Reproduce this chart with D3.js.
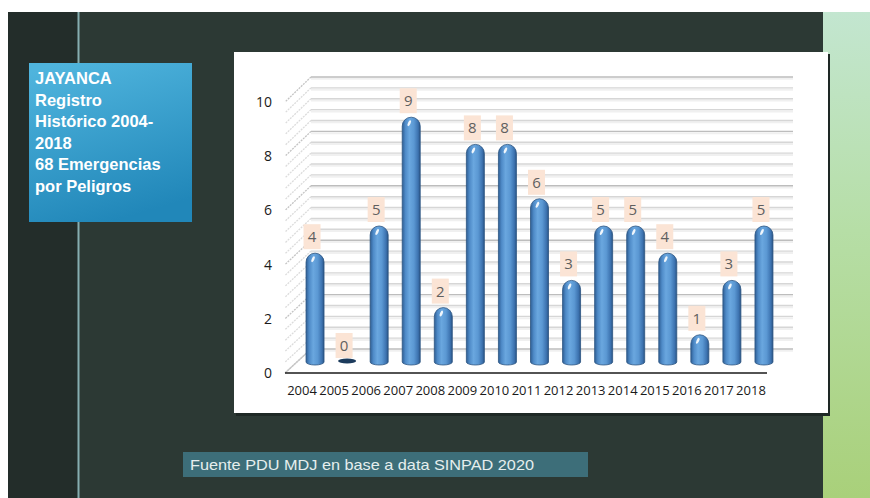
<!DOCTYPE html>
<html><head><meta charset="utf-8">
<script src="https://cdn.jsdelivr.net/npm/d3@7"></script>
<style>html,body{margin:0;padding:0;background:#fff;}svg{display:block;}</style>
</head><body>
<script>
const years = ["2004","2005","2006","2007","2008","2009","2010","2011","2012","2013","2014","2015","2016","2017","2018"];
const values = [4,0,5,9,2,8,8,6,3,5,5,4,1,3,5];
const yTicks = [0,2,4,6,8,10];
const titleLines = ["JAYANCA","Registro","Histórico 2004-","2018","68 Emergencias","por Peligros"];
const sourceText = "Fuente PDU MDJ en base a data SINPAD 2020";

const W = 870, H = 498;
const svg = d3.select("body").append("svg").attr("width", W).attr("height", H);
const defs = svg.append("defs");

const gGreen = defs.append("linearGradient").attr("id","green").attr("x1",0).attr("y1",0).attr("x2",0).attr("y2",1);
[["0%","#c3e6d0"],["45%","#b6dea6"],["100%","#a9d07a"]].forEach(s=>gGreen.append("stop").attr("offset",s[0]).attr("stop-color",s[1]));
const gBox = defs.append("linearGradient").attr("id","box").attr("x1",0.2).attr("y1",0).attr("x2",0.5).attr("y2",1);
[["0%","#4fb4dd"],["100%","#2187b9"]].forEach(s=>gBox.append("stop").attr("offset",s[0]).attr("stop-color",s[1]));
const gBar = defs.append("linearGradient").attr("id","bar").attr("x1",0).attr("y1",0).attr("x2",1).attr("y2",0);
[["0%","#2f5f95"],["18%","#4f8bc8"],["40%","#6aa7df"],["65%","#5b98d3"],["88%","#3d73b0"],["100%","#2a5485"]].forEach(s=>gBar.append("stop").attr("offset",s[0]).attr("stop-color",s[1]));

svg.append("rect").attr("x",8).attr("y",12).attr("width",W-8).attr("height",H-12).attr("fill","#2c3934");
svg.append("rect").attr("x",8).attr("y",12).attr("width",70).attr("height",H-12).attr("fill","#232d2a");
svg.append("rect").attr("x",823).attr("y",12).attr("width",W-823).attr("height",H-12).attr("fill","url(#green)");
svg.append("line").attr("x1",78.5).attr("x2",78.5).attr("y1",12).attr("y2",H).attr("stroke","#86aeb0").attr("stroke-width",2);

svg.append("rect").attr("x",29).attr("y",63).attr("width",163).attr("height",159).attr("fill","url(#box)");
svg.append("g").selectAll("text").data(titleLines).join("text")
  .attr("x",35).attr("y",(d,i)=>84 + i*21.6)
  .attr("font-family","'Liberation Sans', Arial, sans-serif").attr("font-weight","bold")
  .attr("font-size",16.5).attr("fill","#ffffff").text(d=>d);

svg.append("rect").attr("x",183).attr("y",452).attr("width",405).attr("height",25).attr("fill","#3d6e79");
svg.append("text").attr("x",190).attr("y",470).attr("font-family","'Liberation Sans', Arial, sans-serif")
  .attr("font-size",15).attr("fill","#e6eeee").attr("textLength",344).attr("lengthAdjust","spacingAndGlyphs").text(sourceText);

svg.append("rect").attr("x",236).attr("y",54).attr("width",594).attr("height",362).attr("fill","#1e2825");
svg.append("rect").attr("x",234).attr("y",52).attr("width",594).attr("height",361).attr("fill","#ffffff");

const back = d3.scaleLinear().domain([0,10]).range([349,77]);
const front = d3.scaleLinear().domain([0,10]).range([373,102]);
const barY = d3.scaleLinear().domain([0,10]).range([362,90]);
const x = d3.scaleBand().domain(years).range([299,780]).padding(0);
const backX0 = 311, backX1 = 793, frontX0 = 285, frontX1 = 767;

const grid = svg.append("g");
const minor = d3.range(0, 10.001, 0.4).map(v=>+v.toFixed(1));
minor.forEach(v=>{
  const isMajor = Math.abs(v/2 - Math.round(v/2)) < 1e-6;
  const y = back(v);
  grid.append("line").attr("x1",backX0).attr("x2",backX1).attr("y1",y+1.8).attr("y2",y+1.8)
    .attr("stroke","#f0f0f0").attr("stroke-width",2);
  grid.append("line").attr("x1",backX0).attr("x2",backX1).attr("y1",y).attr("y2",y)
    .attr("stroke", isMajor ? "#bdbdbd" : "#d6d6d6").attr("stroke-width",1.4);
  grid.append("line").attr("x1",backX0).attr("x2",frontX0).attr("y1",y).attr("y2",front(v))
    .attr("stroke", isMajor ? "#c4c4c4" : "#dcdcdc").attr("stroke-width",1.3).attr("stroke-dasharray","2,1");
});
grid.append("line").attr("x1",backX0).attr("x2",frontX0).attr("y1",back(0)).attr("y2",front(0)).attr("stroke","#c8c8c8").attr("stroke-width",1.2);
grid.append("line").attr("x1",frontX0).attr("x2",frontX1).attr("y1",front(0)).attr("y2",front(0)).attr("stroke","#1a1a1a").attr("stroke-width",1.6);

svg.append("g").selectAll("text").data(yTicks).join("text")
  .attr("x",272).attr("y",d=>front(d)+5).attr("text-anchor","end")
  .attr("font-family","'Open Sans', sans-serif").attr("font-size",14).attr("fill","#1a1a1a").text(d=>d);

svg.append("g").selectAll("text").data(years).join("text")
  .attr("x",d=>x(d)+x.bandwidth()/2-13).attr("y",395).attr("text-anchor","middle")
  .attr("font-family","'Open Sans', sans-serif").attr("font-size",13).attr("fill","#1a1a1a").text(d=>d);

const bw = 18, r = bw/2;
const bars = svg.append("g");
years.forEach((yr,i)=>{
  const v = values[i];
  const cx = x(yr) + x.bandwidth()/2;
  const base = barY(0);
  if (v > 0) {
    const top = barY(v);
    const p = `M${cx-r},${base} L${cx-r},${top+r} A${r},${r} 0 0 1 ${cx+r},${top+r} L${cx+r},${base} A${r},3 0 0 1 ${cx-r},${base} Z`;
    bars.append("path").attr("d",p).attr("fill","url(#bar)").attr("stroke","#2b5482").attr("stroke-width",0.8);
    bars.append("ellipse").attr("cx",cx-2).attr("cy",top+6).attr("rx",1.3).attr("ry",3.2)
      .attr("transform",`rotate(25,${cx-2},${top+6})`).attr("fill","#ffffff").attr("opacity",0.9);
  } else {
    bars.append("ellipse").attr("cx",cx).attr("cy",base-1).attr("rx",r).attr("ry",2.6).attr("fill","#1c3b5c");
  }
  const ly = barY(v) - 4;
  bars.append("rect").attr("x",cx-3-8.5).attr("y",ly-25).attr("width",17).attr("height",25).attr("fill","#fbe4d5");
  bars.append("text").attr("x",cx-3).attr("y",ly-7).attr("text-anchor","middle")
    .attr("font-family","'Open Sans', sans-serif").attr("font-size",15).attr("fill","#5f5f5f").text(v);
});
</script>
</body></html>
